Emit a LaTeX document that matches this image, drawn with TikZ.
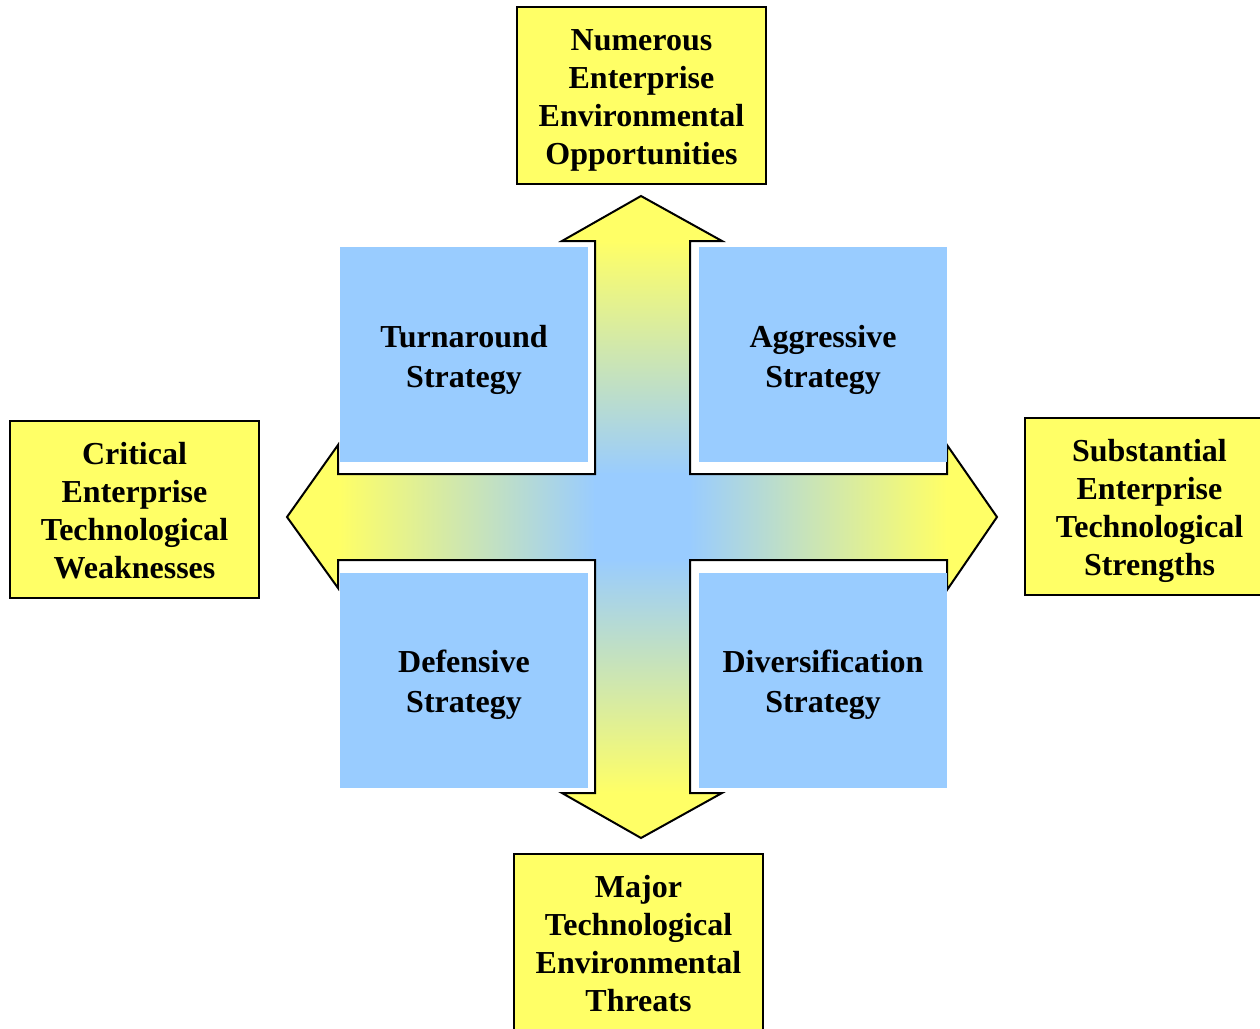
\documentclass[tikz,border=0pt]{standalone}
\usepackage{fontspec}
\setmainfont{Liberation Serif}
\definecolor{yel}{HTML}{FFFF66}
\definecolor{blu}{HTML}{99CCFF}
\newcommand{\lowtext}[1]{\raisebox{-9.75pt}[0pt][0pt]{\begin{tabular}{@{}c@{}}#1\end{tabular}}}
\begin{document}
\begin{tikzpicture}[x=0.75pt,y=-0.75pt,
  ybox/.style={draw=black, line width=1.5pt, fill=yel, minimum width=186.75pt, minimum height=132.75pt,
    inner sep=0pt, font=\fontsize{24}{28.5}\selectfont\bfseries},
  bbox/.style={fill=blu, minimum width=186pt, minimum height=161.25pt,
    inner sep=0pt, font=\fontsize{24}{30}\selectfont\bfseries},
  outline/.style={draw=black, line width=1.5pt, line join=miter}]
\useasboundingbox (0,0) rectangle (1260,1028);
% cross arrow
\def\crosspath{(595,474) -- (595,241) -- (562,241) -- (641,196) -- (722,241) -- (690,241) -- (690,474)
  -- (947,474) -- (947,445) -- (997,517) -- (947,590) -- (947,560) -- (690,560)
  -- (690,793) -- (722,793) -- (641,838) -- (562,793) -- (595,793) -- (595,560)
  -- (338,560) -- (338,588) -- (287,517) -- (338,445) -- (338,474) -- cycle}
\begin{scope}
  \clip \crosspath;
  \fill[yel] (270,180) rectangle (1010,850);
  \shade[top color=yel, bottom color=blu] (540,241) rectangle (740,475);
  \shade[top color=blu, bottom color=yel] (540,559) rectangle (740,793);
  \shade[left color=yel, right color=blu] (338,470) rectangle (596,565);
  \shade[left color=blu, right color=yel] (689,470) rectangle (947,565);
  \fill[blu] (594,473) rectangle (691,561);
\end{scope}
\draw[outline] \crosspath;
% strategy squares
\node[bbox] (tl) at (464,354.5) {\lowtext{Turnaround\\Strategy}};
\node[bbox] (tr) at (823,354.5) {\lowtext{Aggressive\\Strategy}};
\node[bbox] (bl) at (464,680) {\lowtext{Defensive\\Strategy}};
\node[bbox] (br) at (823,680) {\lowtext{Diversification\\Strategy}};
% yellow boxes
\node[ybox] (top) at (641.5,95) {\lowtext{Numerous\\Enterprise\\Environmental\\Opportunities}};
\node[ybox] (left) at (134.5,509.5) {\lowtext{Critical\\Enterprise\\Technological\\Weaknesses}};
\node[ybox] (right) at (1149.5,506.5) {\lowtext{Substantial\\Enterprise\\Technological\\Strengths}};
\node[ybox] (bottom) at (638.5,942.5) {\lowtext{Major\\Technological\\Environmental\\Threats}};
\end{tikzpicture}
\end{document}
